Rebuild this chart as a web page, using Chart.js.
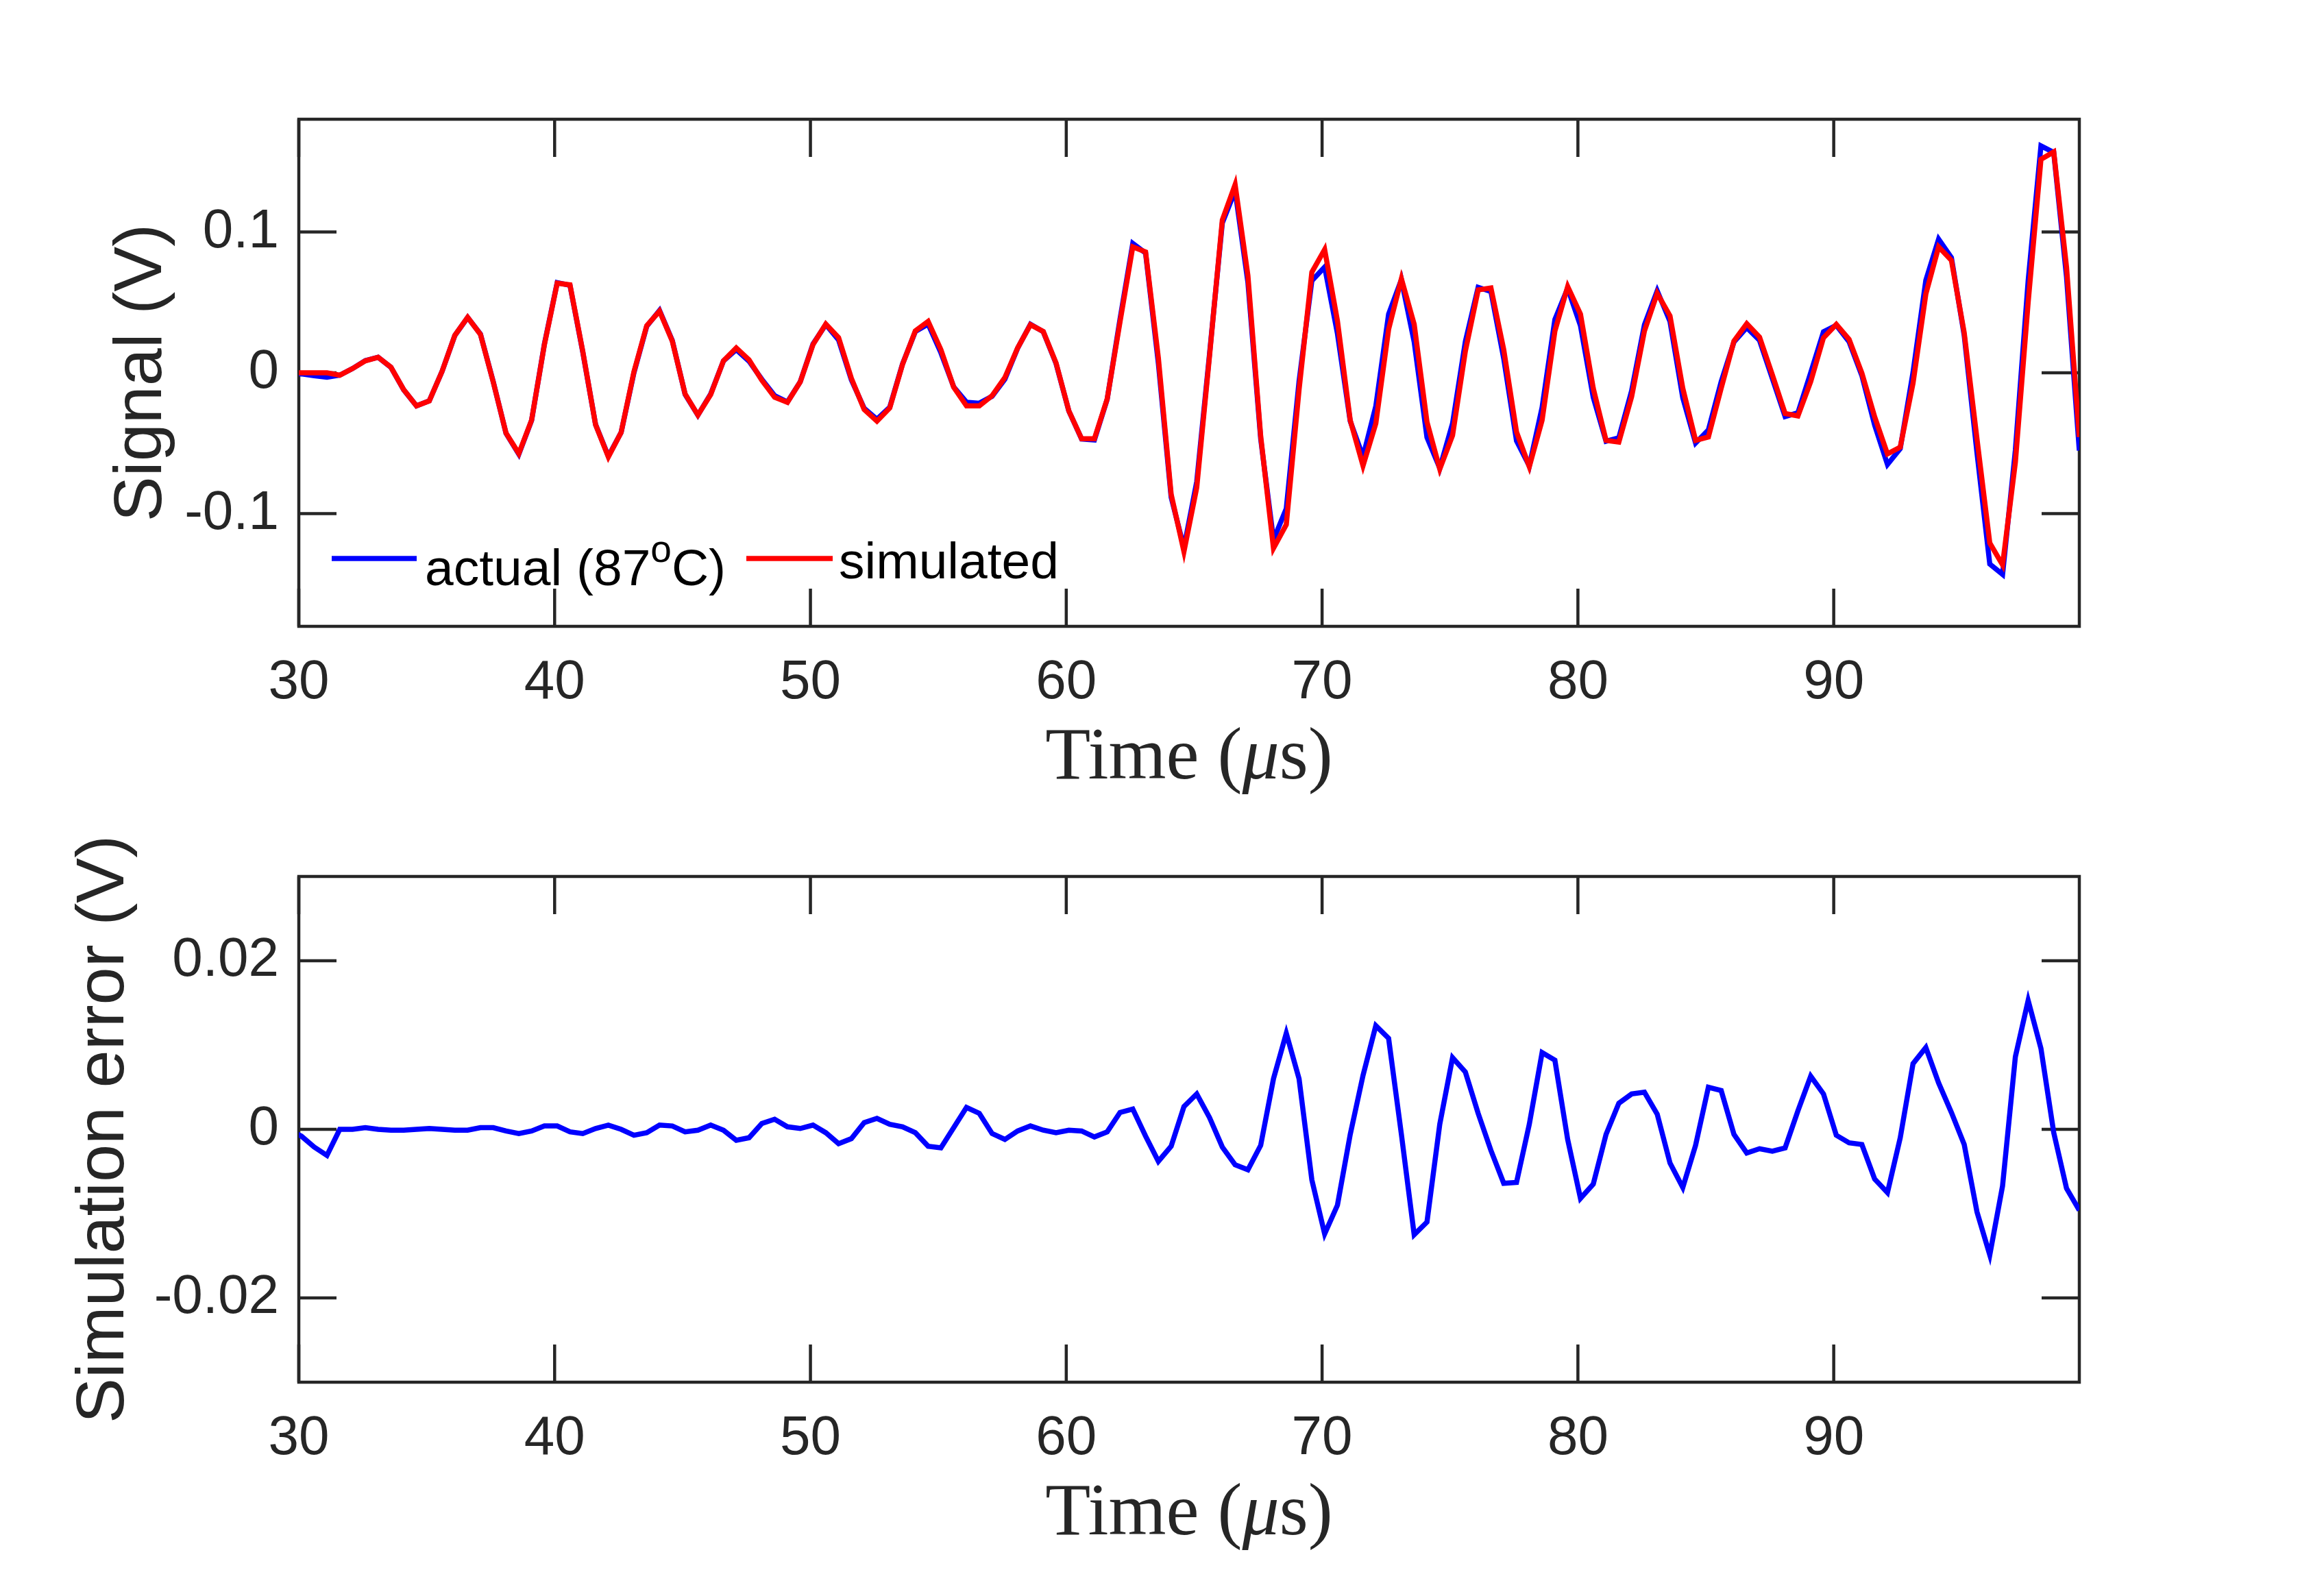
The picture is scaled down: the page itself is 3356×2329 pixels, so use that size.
<!DOCTYPE html>
<html>
<head>
<meta charset="utf-8">
<title>Signal vs simulation</title>
<script src="https://cdn.jsdelivr.net/npm/chart.js@4.4.0/dist/chart.umd.min.js"></script>
<style>
  html, body { margin: 0; padding: 0; background: #fff; }
  body { width: 3356px; height: 2329px; position: relative; overflow: hidden; }
  .panel { position: absolute; left: 0; width: 3356px; }
  #topPanel { top: 0; height: 1170px; }
  #bottomPanel { top: 1170px; height: 1159px; }
</style>
</head>
<body>
<div class="panel" id="topPanel"><canvas id="signalChart" width="3356" height="1170"></canvas></div>
<div class="panel" id="bottomPanel"><canvas id="errorChart" width="3356" height="1159"></canvas></div>
<script>
// sampling grid in microseconds (first sample sits just left of the axis and gets clipped)
const tStart = 29.6;
const tStep = 0.5;

// measured signal, 87 C (V)
const actual = [
  0, -0.0008, -0.0021, -0.0031, -0.0017, 0.003, 0.0087, 0.011, 0.0039, -0.0121,
  -0.0235, -0.0199, 0.001, 0.0265, 0.0393, 0.0275, -0.0063, -0.043, -0.0578, -0.0338,
  0.0204, 0.064, 0.0621, 0.0147, -0.0367, -0.0592, -0.0423, 0, 0.033, 0.0443,
  0.0229, -0.0153, -0.0301, -0.015, 0.0084, 0.0164, 0.0082, -0.0046, -0.0162, -0.0207,
  -0.0064, 0.0205, 0.0342, 0.0233, -0.0051, -0.0252, -0.033, -0.0244, 0.0063, 0.0293,
  0.0345, 0.0142, -0.01, -0.0209, -0.0216, -0.0167, -0.0046, 0.0175, 0.0345, 0.0292,
  0.0066, -0.0271, -0.047, -0.0477, -0.0188, 0.038, 0.0918, 0.085, 0.0067, -0.0883,
  -0.1242, -0.0773, 0.0134, 0.1064, 0.1294, 0.0642, -0.0469, -0.1185, -0.0964, -0.006,
  0.0654, 0.0751, 0.0278, -0.0343, -0.0596, -0.0237, 0.0416, 0.0661, 0.0219, -0.0459,
  -0.0677, -0.0359, 0.0221, 0.0607, 0.0577, 0.0101, -0.0483, -0.0661, -0.0246, 0.0378,
  0.06, 0.0334, -0.0175, -0.0486, -0.0461, -0.0128, 0.034, 0.0582, 0.0364, -0.0179,
  -0.0499, -0.0406, -0.0064, 0.0219, 0.0321, 0.023, -0.004, -0.0311, -0.0284, 0.0001,
  0.0291, 0.0337, 0.0221, -0.002, -0.0372, -0.0651, -0.0538, 0.0004, 0.0656, 0.0949,
  0.0818, 0.0266, -0.0568, -0.1358, -0.1431, -0.055, 0.0653, 0.1611, 0.1564, 0.068,
  -0.0552
];

// simulated signal (V)
const simulated = [
  0, 0, 0, 0, -0.0017, 0.003, 0.0085, 0.011, 0.004, -0.012,
  -0.0235, -0.02, 0.001, 0.0266, 0.0394, 0.0273, -0.0065, -0.0428, -0.0573, -0.0336,
  0.02, 0.0636, 0.0624, 0.0152, -0.0368, -0.0597, -0.0423, 0.0007, 0.0334, 0.0438,
  0.0225, -0.015, -0.03, -0.0155, 0.0085, 0.0177, 0.0092, -0.0053, -0.0174, -0.021,
  -0.0065, 0.02, 0.0346, 0.025, -0.004, -0.026, -0.0343, -0.025, 0.006, 0.0297,
  0.0365, 0.0164, -0.0102, -0.0235, -0.0235, -0.0162, -0.0034, 0.0177, 0.0341, 0.0293,
  0.007, -0.027, -0.0468, -0.0468, -0.0185, 0.036, 0.0894, 0.0858, 0.0105, -0.0863,
  -0.1269, -0.0815, 0.012, 0.1085, 0.1336, 0.069, -0.045, -0.1245, -0.1078, -0.012,
  0.0714, 0.0875, 0.0368, -0.0337, -0.066, -0.036, 0.0308, 0.0667, 0.0344, -0.0349,
  -0.0683, -0.0444, 0.0153, 0.0588, 0.0602, 0.0165, -0.042, -0.0667, -0.0337, 0.0296,
  0.0612, 0.0416, -0.011, -0.048, -0.0492, -0.017, 0.0296, 0.0564, 0.0404, -0.011,
  -0.048, -0.0456, -0.011, 0.0225, 0.0349, 0.0253, -0.0014, -0.0289, -0.0306, -0.0062,
  0.0249, 0.0344, 0.0237, -0.0002, -0.0313, -0.0576, -0.0528, -0.0074, 0.0559, 0.0894,
  0.0798, 0.0284, -0.047, -0.1209, -0.1364, -0.0636, 0.05, 0.1515, 0.1568, 0.075,
  -0.0456
];

// simulation error, actual - simulated (V)
const simError = [
  0, -0.0008, -0.0021, -0.0031, 0, 0, 0.0002, 0, -0.0001, -0.0001,
  0, 0.0001, 0, -0.0001, -0.0001, 0.0002, 0.0002, -0.0002, -0.0005, -0.0002,
  0.0004, 0.0004, -0.0003, -0.0005, 0.0001, 0.0005, 0, -0.0007, -0.0004, 0.0005,
  0.0004, -0.0003, -0.0001, 0.0005, -0.0001, -0.0013, -0.001, 0.0007, 0.0012, 0.0003,
  0.0001, 0.0005, -0.0004, -0.0017, -0.0011, 0.0008, 0.0013, 0.0006, 0.0003, -0.0004,
  -0.002, -0.0022, 0.0002, 0.0026, 0.0019, -0.0005, -0.0012, -0.0002, 0.0004, -0.0001,
  -0.0004, -0.0001, -0.0002, -0.0009, -0.0003, 0.002, 0.0024, -0.0008, -0.0038, -0.002,
  0.0027, 0.0042, 0.0014, -0.0021, -0.0042, -0.0048, -0.0019, 0.006, 0.0114, 0.006,
  -0.006, -0.0124, -0.009, -0.0006, 0.0064, 0.0123, 0.0108, -0.0006, -0.0125, -0.011,
  0.0006, 0.0085, 0.0068, 0.0019, -0.0025, -0.0064, -0.0063, 0.0006, 0.0091, 0.0082,
  -0.0012, -0.0082, -0.0065, -0.0006, 0.0031, 0.0042, 0.0044, 0.0018, -0.004, -0.0069,
  -0.0019, 0.005, 0.0046, -0.0006, -0.0028, -0.0023, -0.0026, -0.0022, 0.0022, 0.0063,
  0.0042, -0.0007, -0.0016, -0.0018, -0.0059, -0.0075, -0.001, 0.0078, 0.0097, 0.0055,
  0.002, -0.0018, -0.0098, -0.0149, -0.0067, 0.0086, 0.0153, 0.0096, -0.0004, -0.007,
  -0.0096
];

const timeTicks = [30, 40, 50, 60, 70, 80, 90];
const signalTicks = [-0.1, 0, 0.1];
const errorTicks = [-0.02, 0, 0.02];

const axisColor = '#262626';
const sansFamily = '"Liberation Sans", Arial, Helvetica, sans-serif';
const serifFamily = '"Liberation Serif", "Times New Roman", serif';
const tickFont = { family: sansFamily, size: 80 };
const labelFont = { family: sansFamily, size: 99 };

function points(values) {
  return values.map((v, k) => ({ x: +(tStart + k * tStep).toFixed(1), y: v }));
}

// box round the axes with inward ticks on all four sides
const frame = {
  id: 'frame',
  beforeDatasetsDraw(chart) {
    const { ctx, chartArea: a, scales: { x, y } } = chart;
    const len = 55;
    ctx.save();
    ctx.strokeStyle = axisColor;
    ctx.lineWidth = 4.5;
    ctx.beginPath();
    x.ticks.forEach(t => {
      const px = x.getPixelForValue(t.value);
      ctx.moveTo(px, a.bottom); ctx.lineTo(px, a.bottom - len);
      ctx.moveTo(px, a.top); ctx.lineTo(px, a.top + len);
    });
    y.ticks.forEach(t => {
      const py = y.getPixelForValue(t.value);
      ctx.moveTo(a.left, py); ctx.lineTo(a.left + len, py);
      ctx.moveTo(a.right, py); ctx.lineTo(a.right - len, py);
    });
    ctx.stroke();
    ctx.strokeRect(a.left, a.top, a.right - a.left, a.bottom - a.top);
    ctx.restore();
  }
};

// "Time (µs)" set like the LaTeX label, italic mu
const timeLabel = {
  id: 'timeLabel',
  afterDraw(chart) {
    const { ctx, chartArea: a } = chart;
    const parts = [['Time (', 'normal'], ['\u03bc', 'italic'], ['s)', 'normal']];
    ctx.save();
    ctx.fillStyle = axisColor;
    ctx.textBaseline = 'alphabetic';
    let total = 0;
    parts.forEach(p => {
      ctx.font = p[1] + ' 108px ' + serifFamily;
      total += ctx.measureText(p[0]).width;
    });
    let x = (a.left + a.right) / 2 - total / 2;
    const y = a.bottom + 222;
    parts.forEach(p => {
      ctx.font = p[1] + ' 108px ' + serifFamily;
      ctx.fillText(p[0], x, y);
      x += ctx.measureText(p[0]).width;
    });
    ctx.restore();
  }
};

// legend without box, with the superscript o
const legendRow = {
  id: 'legendRow',
  afterDraw(chart) {
    const { ctx, chartArea: a } = chart;
    const lineY = a.bottom - 99;
    ctx.save();
    ctx.lineWidth = 7.5;
    ctx.strokeStyle = '#0000ff';
    ctx.beginPath(); ctx.moveTo(a.left + 48, lineY); ctx.lineTo(a.left + 172, lineY); ctx.stroke();
    ctx.strokeStyle = '#ff0000';
    ctx.beginPath(); ctx.moveTo(a.left + 653, lineY); ctx.lineTo(a.left + 779, lineY); ctx.stroke();

    ctx.fillStyle = '#000';
    ctx.textBaseline = 'alphabetic';
    let x = a.left + 184;
    ctx.font = '75px ' + sansFamily;
    ctx.fillText('actual (87', x, a.bottom - 60);
    x += ctx.measureText('actual (87').width;
    ctx.font = '55px ' + sansFamily;
    ctx.fillText('o', x, a.bottom - 94);
    x += ctx.measureText('o').width;
    ctx.font = '75px ' + sansFamily;
    ctx.fillText('C)', x, a.bottom - 60);
    ctx.fillText('simulated', a.left + 788, a.bottom - 70);
    ctx.restore();
  }
};

const ctxSignal = document.getElementById('signalChart').getContext('2d');
const signalChart = new Chart(ctxSignal, {
  type: 'line',
  data: {
    datasets: [{
      label: 'simulated',
      data: points(simulated),
      borderColor: '#ff0000',
      borderWidth: 7.5,
      pointRadius: 0,
      order: 0,
      clip: 0
    }, {
      label: 'actual (87 C)',
      data: points(actual),
      borderColor: '#0000ff',
      borderWidth: 7.5,
      pointRadius: 0,
      order: 1,
      clip: 0
    }]
  },
  options: {
    responsive: false,
    animation: false,
    devicePixelRatio: 1,
    layout: { padding: { left: 0, right: 322, top: 174, bottom: 0 } },
    plugins: { legend: { display: false }, tooltip: { enabled: false } },
    scales: {
      x: {
        type: 'linear',
        min: 30,
        max: 99.6,
        afterBuildTicks: s => { s.ticks = timeTicks.map(v => ({ value: v })); },
        afterFit: s => { s.height = 256; },
        grid: { display: false, drawTicks: false },
        border: { display: false },
        ticks: { font: tickFont, color: axisColor, padding: 35, maxRotation: 0, callback: v => String(v) }
      },
      y: {
        min: -0.18,
        max: 0.18,
        afterBuildTicks: s => { s.ticks = signalTicks.map(v => ({ value: v })); },
        afterFit: s => { s.width = 436; },
        grid: { display: false, drawTicks: false },
        border: { display: false },
        ticks: { font: tickFont, color: axisColor, padding: 29, callback: v => String(v) },
        title: { display: true, text: 'Signal (V)', font: labelFont, color: axisColor, padding: { top: 148, bottom: 0 } }
      }
    }
  },
  plugins: [frame, timeLabel, legendRow]
});

const ctxError = document.getElementById('errorChart').getContext('2d');
const errorChart = new Chart(ctxError, {
  type: 'line',
  data: {
    datasets: [{
      label: 'error',
      data: points(simError),
      borderColor: '#0000ff',
      borderWidth: 7.5,
      pointRadius: 0,
      clip: 0
    }]
  },
  options: {
    responsive: false,
    animation: false,
    devicePixelRatio: 1,
    layout: { padding: { left: 0, right: 322, top: 109, bottom: 0 } },
    plugins: { legend: { display: false }, tooltip: { enabled: false } },
    scales: {
      x: {
        type: 'linear',
        min: 30,
        max: 99.6,
        afterBuildTicks: s => { s.ticks = timeTicks.map(v => ({ value: v })); },
        afterFit: s => { s.height = 312; },
        grid: { display: false, drawTicks: false },
        border: { display: false },
        ticks: { font: tickFont, color: axisColor, padding: 35, maxRotation: 0, callback: v => String(v) }
      },
      y: {
        min: -0.03,
        max: 0.03,
        afterBuildTicks: s => { s.ticks = errorTicks.map(v => ({ value: v })); },
        afterFit: s => { s.width = 436; },
        grid: { display: false, drawTicks: false },
        border: { display: false },
        ticks: { font: tickFont, color: axisColor, padding: 29, callback: v => String(v) },
        title: { display: true, text: 'Simulation error (V)', font: labelFont, color: axisColor, padding: { top: 93, bottom: 0 } }
      }
    }
  },
  plugins: [frame, timeLabel]
});
</script>
</body>
</html>
